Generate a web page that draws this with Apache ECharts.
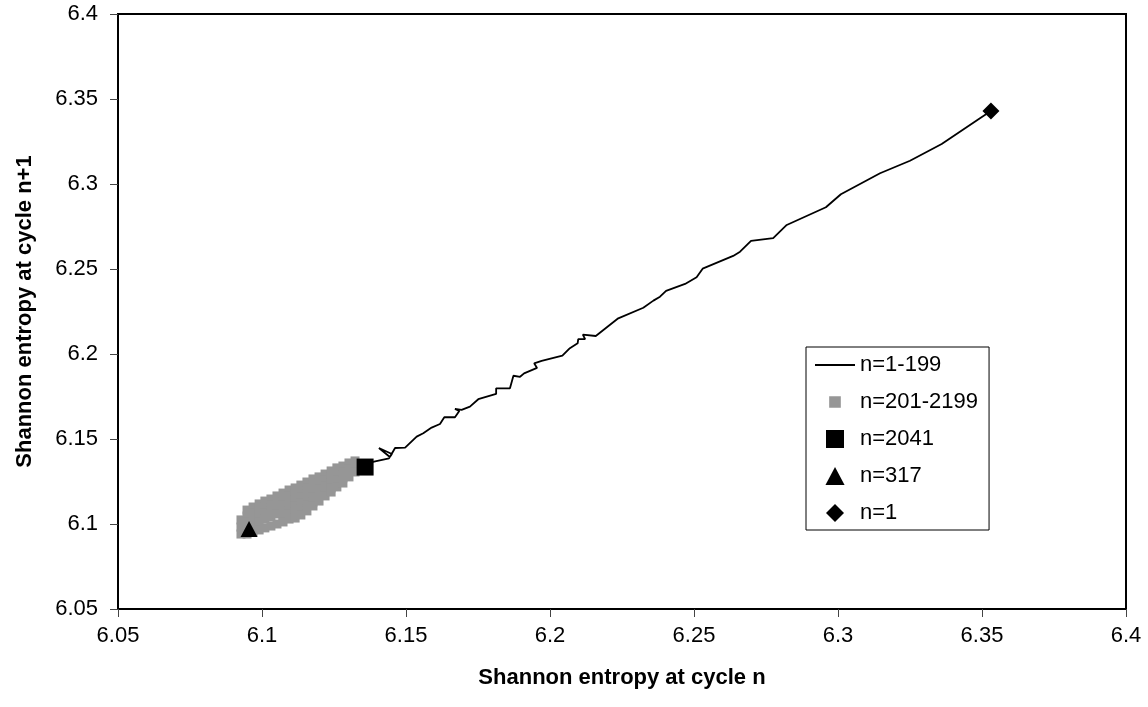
<!DOCTYPE html>
<html>
<head>
<meta charset="utf-8">
<script src="https://cdn.jsdelivr.net/npm/echarts@6/dist/echarts.min.js"></script>
<style>
html,body{margin:0;padding:0;background:#fff;}
#chart{width:1148px;height:707px;}
</style>
</head>
<body>
<div id="chart"></div>
<script>
// ---- data ----
const AXIS_MIN = 6.05, AXIS_MAX = 6.4, AXIS_STEP = 0.05;
const tickLabels = ['6.05','6.1','6.15','6.2','6.25','6.3','6.35','6.4'];
const seriesNames = ['n=1-199','n=201-2199','n=2041','n=317','n=1'];
const xTitle = 'Shannon entropy at cycle n';
const yTitle = 'Shannon entropy at cycle n+1';

// trajectory n=1..199 : [entropy at n, entropy at n+1]
const lineData = [
  [6.3531,6.3429],[6.3493,6.3387],[6.3360,6.3235],[6.3250,6.3137],[6.3146,6.3063],
  [6.3010,6.2940],[6.2958,6.2863],[6.2822,6.2759],[6.2775,6.2682],[6.2698,6.2665],
  [6.2660,6.2602],[6.2636,6.2577],[6.2530,6.2502],[6.2509,6.2451],[6.2469,6.2412],
  [6.2403,6.2371],[6.2382,6.2337],[6.2359,6.2314],[6.2324,6.2272],[6.2237,6.2210],
  [6.2159,6.2106],[6.2114,6.2114],[6.2122,6.2087],[6.2098,6.2087],[6.2096,6.2063],
  [6.2069,6.2034],[6.2043,6.1990],[6.1971,6.1959],[6.1945,6.1945],[6.1955,6.1918],
  [6.1910,6.1886],[6.1896,6.1866],[6.1873,6.1872],[6.1879,6.1863],[6.1861,6.1798],
  [6.1813,6.1798],[6.1813,6.1765],[6.1751,6.1734],[6.1722,6.1690],[6.1693,6.1671],
  [6.1670,6.1677],[6.1685,6.1665],[6.1670,6.1628],[6.1633,6.1628],[6.1618,6.1588],
  [6.1589,6.1567],[6.1560,6.1534],[6.1537,6.1514],[6.1497,6.1449],[6.1462,6.1447],
  [6.1444,6.1394],[6.1406,6.1447],[6.1451,6.1412],[6.1441,6.1386],[6.1385,6.1365]
];

// cluster n=201..2199
const clusterData = [
  [6.0927,6.1024],[6.0927,6.0982],[6.0927,6.0941],
  [6.0948,6.1082],[6.0948,6.1047],[6.0948,6.1012],[6.0948,6.0977],[6.0948,6.0941],
  [6.0969,6.1100],[6.0969,6.1065],[6.0969,6.1029],[6.0969,6.0994],[6.0969,6.0953],
  [6.0990,6.1118],[6.0990,6.1082],[6.0990,6.1047],[6.0990,6.1012],[6.0990,6.0965],
  [6.1010,6.1135],[6.1010,6.1100],[6.1010,6.1065],[6.1010,6.1029],[6.1010,6.0977],
  [6.1031,6.1147],[6.1031,6.1112],[6.1031,6.1077],[6.1031,6.1041],[6.1031,6.0988],
  [6.1052,6.1165],[6.1052,6.1129],[6.1052,6.1094],[6.1052,6.1059],[6.1052,6.1000],
  [6.1073,6.1182],[6.1073,6.1147],[6.1073,6.1112],[6.1073,6.1077],[6.1073,6.1047],[6.1073,6.1012],
  [6.1094,6.1200],[6.1094,6.1165],[6.1094,6.1129],[6.1094,6.1094],[6.1094,6.1059],[6.1094,6.1029],
  [6.1115,6.1212],[6.1115,6.1177],[6.1115,6.1141],[6.1115,6.1106],[6.1115,6.1071],[6.1115,6.1035],
  [6.1135,6.1229],[6.1135,6.1194],[6.1135,6.1159],[6.1135,6.1124],[6.1135,6.1088],[6.1135,6.1053],
  [6.1156,6.1247],[6.1156,6.1212],[6.1156,6.1177],[6.1156,6.1141],[6.1156,6.1112],[6.1156,6.1077],
  [6.1177,6.1265],[6.1177,6.1229],[6.1177,6.1194],[6.1177,6.1159],[6.1177,6.1129],[6.1177,6.1106],
  [6.1198,6.1277],[6.1198,6.1241],[6.1198,6.1206],[6.1198,6.1171],[6.1198,6.1135],
  [6.1219,6.1294],[6.1219,6.1259],[6.1219,6.1224],[6.1219,6.1194],[6.1219,6.1165],
  [6.1240,6.1312],[6.1240,6.1277],[6.1240,6.1241],[6.1240,6.1212],[6.1240,6.1188],
  [6.1260,6.1330],[6.1260,6.1294],[6.1260,6.1259],[6.1260,6.1218],
  [6.1281,6.1341],[6.1281,6.1306],[6.1281,6.1271],[6.1281,6.1241],
  [6.1302,6.1359],[6.1302,6.1324],[6.1302,6.1277],
  [6.1323,6.1371],[6.1323,6.1335],[6.1323,6.1306]
];

const point2041 = [[6.1358,6.1335]];
const point317 = [[6.0955,6.0970]];
const point1 = [[6.3531,6.3429]];

// ---- chart ----
const FONT = 'Liberation Sans, Arial, sans-serif';
const chart = echarts.init(document.getElementById('chart'), null, {renderer:'canvas'});

function tickFmt(v){
  const i = Math.round((v - AXIS_MIN) / AXIS_STEP);
  return tickLabels[i] !== undefined ? tickLabels[i] : '';
}

function axisCommon(name, gap, labelMargin){
  return {
    type:'value', min:AXIS_MIN, max:AXIS_MAX, interval:AXIS_STEP,
    name:name, nameLocation:'middle', nameGap:gap,
    nameTextStyle:{fontFamily:FONT, fontSize:22, fontWeight:'bold', color:'#000'},
    axisLine:{show:true, onZero:false, lineStyle:{color:'#000', width:2}},
    axisTick:{show:true, inside:false, length:8, lineStyle:{color:'#444', width:1}},
    axisLabel:{fontFamily:FONT, fontSize:22, color:'#000', margin:labelMargin, formatter:tickFmt},
    splitLine:{show:false}
  };
}

const iconLine = 'path://M0,0L40,0L40,2L0,2Z';
const iconSmallSquare = 'path://M0,0L0.01,0M17,17L17.01,17M3,3L14,3L14,14L3,14Z';
const iconSquare = 'path://M0,0L17,0L17,17L0,17Z';
const iconTriangle = 'path://M8.5,0L17,16L0,16Z';
const iconDiamond = 'path://M8.5,0L17,8.5L8.5,17L0,8.5Z';

chart.setOption({
  animation:false,
  backgroundColor:'#fff',
  grid:{left:118, right:22, top:14, bottom:98, show:true, borderColor:'#000', borderWidth:2, containLabel:false},
  xAxis: axisCommon(xTitle, 58, 16),
  yAxis: axisCommon(yTitle, 82, 20),
  legend:{
    orient:'vertical', left:806, top:347,
    data:[
      {name:seriesNames[0], icon:iconLine},
      {name:seriesNames[1], icon:iconSmallSquare},
      {name:seriesNames[2], icon:iconSquare},
      {name:seriesNames[3], icon:iconTriangle},
      {name:seriesNames[4], icon:iconDiamond}
    ],
    symbolKeepAspect:true,
    itemWidth:40, itemHeight:18, itemGap:15, itemTextGap:12,
    padding:[7,11,6,9],
    borderColor:'#000', borderWidth:1, backgroundColor:'#fff',
    textStyle:{fontFamily:FONT, fontSize:22, color:'#000', lineHeight:22}
  },
  series:[
    {
      name:seriesNames[1], type:'scatter', data:clusterData,
      symbol:'rect', symbolSize:9, itemStyle:{color:'#969696', opacity:1}, z:2
    },
    {
      name:seriesNames[0], type:'line', data:lineData,
      symbol:'none', showSymbol:false, smooth:false,
      lineStyle:{color:'#000', width:1.8}, itemStyle:{color:'#000'}, z:3
    },
    {
      name:seriesNames[3], type:'scatter', data:point317,
      symbol:'triangle', symbolSize:[17,16], itemStyle:{color:'#000', opacity:1}, z:4
    },
    {
      name:seriesNames[2], type:'scatter', data:point2041,
      symbol:'rect', symbolSize:17, itemStyle:{color:'#000', opacity:1}, z:4
    },
    {
      name:seriesNames[4], type:'scatter', data:point1,
      symbol:'diamond', symbolSize:17, itemStyle:{color:'#000', opacity:1}, z:4
    }
  ]
});
</script>
</body>
</html>
